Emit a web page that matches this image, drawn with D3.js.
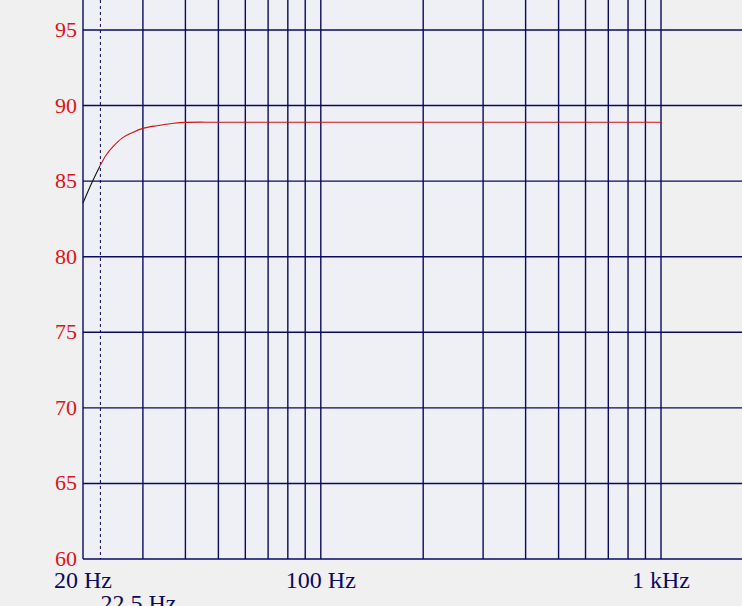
<!DOCTYPE html>
<html>
<head>
<meta charset="utf-8">
<script src="https://cdn.jsdelivr.net/npm/d3@7"></script>
<style>
  html, body { margin: 0; padding: 0; background: #f0f0f0; }
  svg { display: block; }
</style>
</head>
<body>
<svg id="chart"></svg>
<script>
// frequency response
const freqs  = [20, 21.2, 22.5, 23.4, 24.5, 26, 28, 30, 33, 37, 40, 50, 100, 200, 500, 1000];
const levels = [83.55, 84.86, 86.05, 86.73, 87.28, 87.83, 88.22, 88.49, 88.67, 88.83, 88.89, 88.9, 88.9, 88.9, 88.9, 88.9];

const yTicks = [60, 65, 70, 75, 80, 85, 90, 95];
const xGrid = [20, 30, 40, 50, 60, 70, 80, 90, 100, 200, 300, 400, 500, 600, 700, 800, 900, 1000];
const xLabels = [20, 100, 1000];
const xLabelText = ["20 Hz", "100 Hz", "1 kHz"];
const markerFreq = 22.5;
const markerText = "22.5 Hz";

const width = 742;
const height = 606;

const svg = d3.select("#chart")
  .attr("width", width)
  .attr("height", height);

const x = d3.scaleLog().domain([20, 1000]).range([83, 661]);
const y = d3.scaleLinear().domain([60, 95]).range([559, 30]);

const navy = "#0a0a62";
const plotTop = 0;

// plot background
svg.append("rect")
  .attr("x", x(20))
  .attr("y", plotTop)
  .attr("width", x(1000) - x(20))
  .attr("height", y(60) - plotTop)
  .attr("fill", "#eef0f5");

// horizontal grid
svg.append("g")
  .selectAll("line")
  .data(yTicks)
  .join("line")
  .attr("x1", x(20))
  .attr("x2", width)
  .attr("y1", (d) => y(d))
  .attr("y2", (d) => y(d))
  .attr("stroke", navy)
  .attr("stroke-width", 1.4);

// vertical grid
svg.append("g")
  .selectAll("line")
  .data(xGrid)
  .join("line")
  .attr("x1", (d) => x(d))
  .attr("x2", (d) => x(d))
  .attr("y1", plotTop)
  .attr("y2", y(60))
  .attr("stroke", navy)
  .attr("stroke-width", 1.4);

// marker
svg.append("line")
  .attr("x1", x(markerFreq))
  .attr("x2", x(markerFreq))
  .attr("y1", plotTop)
  .attr("y2", y(60))
  .attr("stroke", navy)
  .attr("stroke-width", 1)
  .attr("stroke-dasharray", "3,3");

// curve
const pts = freqs.map((f, i) => ({ f, v: levels[i] }));
const line = d3.line()
  .x((d) => x(d.f))
  .y((d) => y(d.v))
  .curve(d3.curveCatmullRom.alpha(0.5));

svg.append("path")
  .datum(pts.filter((d) => d.f <= 23.4))
  .attr("d", line)
  .attr("fill", "none")
  .attr("stroke", "#111111")
  .attr("stroke-width", 1.1)
  .attr("clip-path", "url(#left)");

svg.append("clipPath")
  .attr("id", "left")
  .append("rect")
  .attr("x", 0)
  .attr("y", 0)
  .attr("width", x(markerFreq))
  .attr("height", height);

svg.append("path")
  .datum(pts.filter((d) => d.f >= markerFreq))
  .attr("d", line)
  .attr("fill", "none")
  .attr("stroke", "#d41010")
  .attr("stroke-width", 1.1);

// y labels
svg.append("g")
  .selectAll("text")
  .data(yTicks)
  .join("text")
  .attr("x", 77)
  .attr("y", (d) => y(d) + 7)
  .attr("text-anchor", "end")
  .attr("font-family", "Liberation Serif, serif")
  .attr("font-size", 22)
  .attr("fill", "#dd1414")
  .text((d) => d);

// x labels
svg.append("g")
  .selectAll("text")
  .data(xLabels)
  .join("text")
  .attr("x", (d) => x(d))
  .attr("y", 588)
  .attr("text-anchor", "middle")
  .attr("font-family", "Liberation Serif, serif")
  .attr("font-size", 24)
  .attr("fill", navy)
  .text((d, i) => xLabelText[i]);

svg.append("text")
  .attr("x", x(markerFreq))
  .attr("y", 611)
  .attr("font-family", "Liberation Serif, serif")
  .attr("font-size", 24)
  .attr("fill", navy)
  .text(markerText);
</script>
</body>
</html>
